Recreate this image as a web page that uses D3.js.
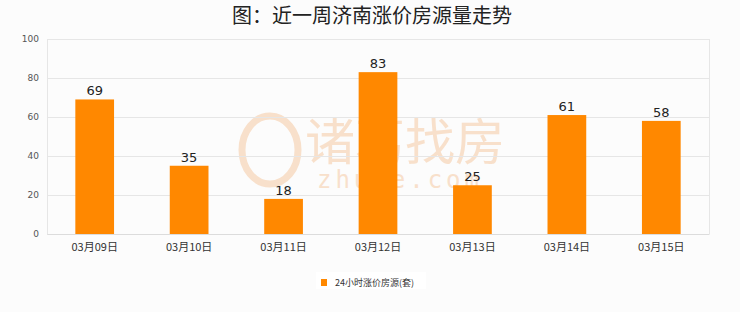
<!DOCTYPE html>
<html><head><meta charset="utf-8">
<script src="https://cdn.jsdelivr.net/npm/d3@7"></script>
<style>body{margin:0;background:#fcfcfc;}svg{display:block;}</style>
</head><body>
<svg id="c" width="740" height="312"></svg>
<script>
const categories = ["03月09日","03月10日","03月11日","03月12日","03月13日","03月14日","03月15日"];
const values = [69,35,18,83,25,61,58];
const yTicks = [0,20,40,60,80,100];
const titleText = "图：近一周济南涨价房源量走势";
const seriesName = "24小时涨价房源(套)";

const svg = d3.select("#c");
const W=740,H=312;
svg.append("rect").attr("width",W).attr("height",H).attr("fill","#fcfcfc");
const m={l:47,r:31,t:39,b:78};
const x=d3.scaleBand().domain(categories).range([m.l,W-m.r]).paddingInner(0.59).paddingOuter(0.3);
const y=d3.scaleLinear().domain([0,100]).range([H-m.b,m.t]);

// watermark
const wm=svg.append("g").attr("fill","#f6d9bf");
wm.append("text").attr("x",405).attr("y",160).attr("text-anchor","middle").attr("font-family","Noto Sans CJK SC").attr("font-size",50).attr("fill","#f8e0cb").text("诸葛找房");
wm.append("text").attr("x",400).attr("y",188).attr("text-anchor","middle").attr("font-family","DejaVu Sans Mono").attr("font-size",24).attr("letter-spacing",4).attr("fill","#f8e0cb").text("zhuge.com");
wm.append("ellipse").attr("cx",270).attr("cy",150).attr("rx",28).attr("ry",34).attr("fill","none").attr("stroke","#f8e0cb").attr("stroke-width",7);

// grid
svg.append("g").selectAll("line").data(yTicks).join("line")
 .attr("x1",m.l).attr("x2",W-m.r).attr("y1",d=>y(d)+0.5).attr("y2",d=>y(d)+0.5)
 .attr("stroke","#e6e6e6");
svg.append("line").attr("x1",W-m.r+0.5).attr("x2",W-m.r+0.5).attr("y1",m.t).attr("y2",H-m.b).attr("stroke","#e6e6e6");
svg.append("line").attr("x1",m.l+0.5).attr("x2",m.l+0.5).attr("y1",m.t).attr("y2",H-m.b).attr("stroke","#e6e6e6");

// y axis labels
const ya=svg.append("g").attr("transform",`translate(${m.l-8},0)`).call(d3.axisLeft(y).tickValues(yTicks).tickSize(0).tickPadding(0));
ya.select(".domain").remove();
ya.selectAll("text").attr("font-family","DejaVu Sans").attr("font-size",9).attr("fill","#555");

// x axis labels
const xa=svg.append("g").attr("transform",`translate(0,${H-m.b})`).call(d3.axisBottom(x).tickSize(0).tickPadding(9));
xa.select(".domain").attr("stroke","#dcdcdc");
xa.selectAll("text").attr("font-family","Noto Sans CJK SC").attr("font-size",11).attr("fill","#333");

// bars
svg.append("g").selectAll("rect").data(values).join("rect")
 .attr("x",(d,i)=>x(categories[i])).attr("width",x.bandwidth())
 .attr("y",d=>y(d)).attr("height",d=>y(0)-y(d)).attr("fill","#ff8800");
svg.append("g").selectAll("text").data(values).join("text")
 .attr("x",(d,i)=>x(categories[i])+x.bandwidth()/2).attr("y",d=>y(d)-4)
 .attr("text-anchor","middle").attr("font-family","DejaVu Sans").attr("font-size",13).attr("fill","#222").text(d=>d);

// title
svg.append("text").attr("x",372).attr("y",23).attr("text-anchor","middle").attr("font-family","Noto Sans CJK SC").attr("font-size",20).attr("fill","#222").text(titleText);

// legend
const lg=svg.append("g");
lg.append("rect").attr("x",316).attr("y",272).attr("width",110).attr("height",17).attr("fill","#fff");
lg.append("rect").attr("x",321).attr("y",279).attr("width",6).attr("height",7).attr("fill","#ff8800");
lg.append("text").attr("x",335).attr("y",286).attr("font-family","Noto Sans CJK SC").attr("font-size",9).attr("fill","#333").text(seriesName);
</script>
</body></html>
